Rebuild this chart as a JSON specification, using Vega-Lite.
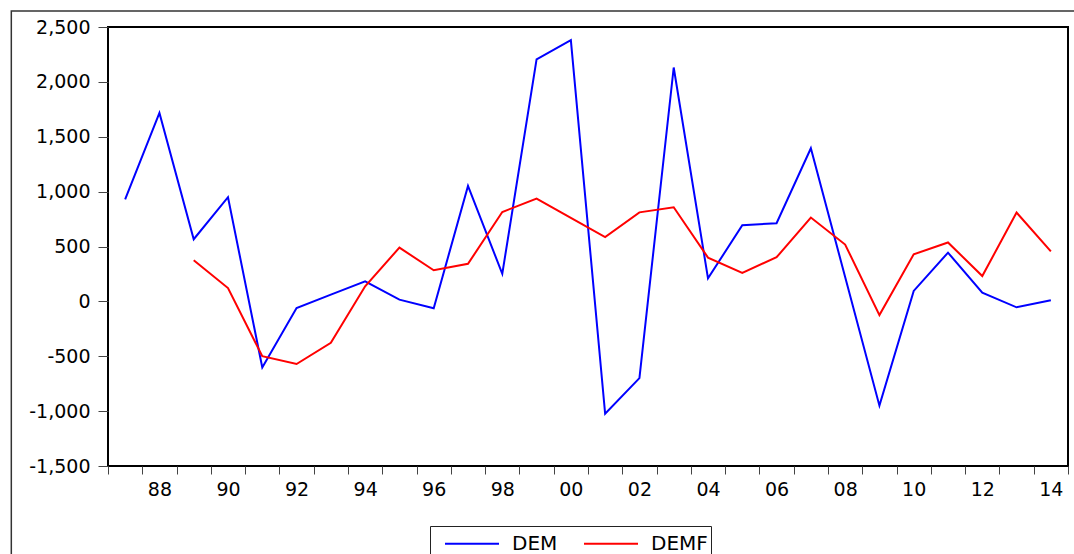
{
  "$schema": "https://vega.github.io/schema/vega-lite/v6.json",
  "width": 960,
  "height": 439,
  "autosize": {"type": "none"},
  "padding": {"left": 108, "top": 27, "right": 6, "bottom": 88},
  "background": "white",
  "config": {
    "view": {"stroke": "#000000", "strokeWidth": 2},
    "font": "DejaVu Sans",
    "axis": {"grid": false, "domain": false, "title": null, "labelColor": "#000000", "tickColor": "#444444", "labelFont": "DejaVu Sans"},
    "legend": {"labelFont": "DejaVu Sans"}
  },
  "resolve": {"axis": {"x": "independent", "y": "independent"}},
  "datasets": {
    "series": [
      {"year": 1987, "series": "DEM", "value": 930},
      {"year": 1988, "series": "DEM", "value": 1717},
      {"year": 1989, "series": "DEM", "value": 566},
      {"year": 1990, "series": "DEM", "value": 949},
      {"year": 1991, "series": "DEM", "value": -603},
      {"year": 1992, "series": "DEM", "value": -60},
      {"year": 1993, "series": "DEM", "value": 61},
      {"year": 1994, "series": "DEM", "value": 183},
      {"year": 1995, "series": "DEM", "value": 16},
      {"year": 1996, "series": "DEM", "value": -63},
      {"year": 1997, "series": "DEM", "value": 1052},
      {"year": 1998, "series": "DEM", "value": 251},
      {"year": 1999, "series": "DEM", "value": 2206},
      {"year": 2000, "series": "DEM", "value": 2381},
      {"year": 2001, "series": "DEM", "value": -1024},
      {"year": 2002, "series": "DEM", "value": -699},
      {"year": 2003, "series": "DEM", "value": 2131},
      {"year": 2004, "series": "DEM", "value": 210},
      {"year": 2005, "series": "DEM", "value": 693},
      {"year": 2006, "series": "DEM", "value": 712},
      {"year": 2007, "series": "DEM", "value": 1395},
      {"year": 2008, "series": "DEM", "value": 222},
      {"year": 2009, "series": "DEM", "value": -950},
      {"year": 2010, "series": "DEM", "value": 95},
      {"year": 2011, "series": "DEM", "value": 444},
      {"year": 2012, "series": "DEM", "value": 80},
      {"year": 2013, "series": "DEM", "value": -54},
      {"year": 2014, "series": "DEM", "value": 10},
      {"year": 1989, "series": "DEMF", "value": 374},
      {"year": 1990, "series": "DEMF", "value": 121},
      {"year": 1991, "series": "DEMF", "value": -499},
      {"year": 1992, "series": "DEMF", "value": -571},
      {"year": 1993, "series": "DEMF", "value": -378},
      {"year": 1994, "series": "DEMF", "value": 138},
      {"year": 1995, "series": "DEMF", "value": 490},
      {"year": 1996, "series": "DEMF", "value": 283},
      {"year": 1997, "series": "DEMF", "value": 342},
      {"year": 1998, "series": "DEMF", "value": 814},
      {"year": 1999, "series": "DEMF", "value": 937},
      {"year": 2000, "series": "DEMF", "value": 761},
      {"year": 2001, "series": "DEMF", "value": 586},
      {"year": 2002, "series": "DEMF", "value": 811},
      {"year": 2003, "series": "DEMF", "value": 858},
      {"year": 2004, "series": "DEMF", "value": 399},
      {"year": 2005, "series": "DEMF", "value": 260},
      {"year": 2006, "series": "DEMF", "value": 402},
      {"year": 2007, "series": "DEMF", "value": 764},
      {"year": 2008, "series": "DEMF", "value": 518},
      {"year": 2009, "series": "DEMF", "value": -125},
      {"year": 2010, "series": "DEMF", "value": 429},
      {"year": 2011, "series": "DEMF", "value": 537},
      {"year": 2012, "series": "DEMF", "value": 231},
      {"year": 2013, "series": "DEMF", "value": 809},
      {"year": 2014, "series": "DEMF", "value": 456}
    ]
  },
  "layer": [
    {
      "data": {"name": "series"},
      "mark": {"type": "line", "strokeWidth": 2},
      "encoding": {
        "x": {
          "field": "year",
          "type": "quantitative",
          "scale": {"domain": [1986.5, 2014.5], "nice": false, "zero": false},
          "axis": {
            "values": [1986.5, 1987.5, 1988.5, 1989.5, 1990.5, 1991.5, 1992.5, 1993.5, 1994.5, 1995.5, 1996.5, 1997.5, 1998.5, 1999.5, 2000.5, 2001.5, 2002.5, 2003.5, 2004.5, 2005.5, 2006.5, 2007.5, 2008.5, 2009.5, 2010.5, 2011.5, 2012.5, 2013.5, 2014.5],
            "labelExpr": "(floor(datum.value) % 2 == 1) ? slice(toString(floor(datum.value) + 1), 2) : ''",
            "labelOffset": 17.14,
            "labelOverlap": false,
            "labelFlush": false,
            "tickSize": 8,
            "labelPadding": 6,
            "labelFontSize": 19,
            "title": null
          }
        },
        "y": {
          "field": "value",
          "type": "quantitative",
          "scale": {"domain": [-1500, 2500], "nice": false, "zero": false},
          "axis": {
            "values": [-1500, -1000, -500, 0, 500, 1000, 1500, 2000, 2500],
            "labelExpr": "replace(format(datum.value, ','), '\u2212', '-')",
            "tickSize": 10,
            "labelPadding": 8,
            "labelFontSize": 19,
            "labelOverlap": false,
            "labelFlush": false,
            "title": null
          }
        },
        "color": {
          "field": "series",
          "type": "nominal",
          "scale": {"domain": ["DEM", "DEMF"], "range": ["#0000FF", "#FF0000"]},
          "legend": {
            "title": null,
            "orient": "none",
            "legendX": 322,
            "legendY": 499,
            "direction": "horizontal",
            "symbolType": "M-2,0H2",
            "symbolSize": 729,
            "symbolStrokeWidth": 2,
            "symbolOffset": 24.5,
            "labelFontSize": 20,
            "labelOffset": 25.5,
            "columnPadding": 14,
            "padding": 3,
            "strokeColor": "#222222"
          }
        }
      }
    },
    {
      "data": {"values": [{"frame": "outer"}]},
      "mark": {"type": "rect", "filled": false, "stroke": "#333333", "strokeWidth": 1.5, "clip": false},
      "encoding": {
        "x": {"datum": 1983.68, "type": "quantitative", "axis": null},
        "x2": {"datum": 2030},
        "y": {"datum": 2646, "type": "quantitative", "axis": null},
        "y2": {"datum": -2700}
      }
    }
  ]
}
